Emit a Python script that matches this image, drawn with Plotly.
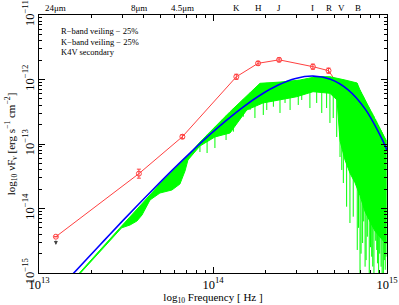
import numpy as np
import plotly.graph_objects as go

# ---------------- data (log10 units) ----------------
band_labels = ["24μm", "8μm", "4.5μm", "K", "H", "J", "I", "R", "V", "B"]
band_logfreq = [13.097, 13.574, 13.824, 14.134, 14.259, 14.380, 14.574, 14.664, 14.737, 14.833]

# observed SED (red), first point is an upper limit
red_logflux = [-14.437, -13.46, -12.887, -11.958, -11.749, -11.695, -11.801, -11.863, -12.15]
red_err_dex = [0.0, 0.07, 0.03, 0.04, 0.03, 0.03, 0.04, 0.04, 0.04]

# K4V secondary smooth continuum (blue)
blue_logfreq = [13.175, 13.275, 13.375, 13.475, 13.575, 13.675, 13.775, 13.875, 13.975, 14.075,
                14.175, 14.275, 14.375, 14.475, 14.575, 14.675, 14.775, 14.875, 14.975, 15.0]
blue_logflux = [-15.073, -14.782, -14.494, -14.208, -13.927, -13.651, -13.381, -13.121, -12.871, -12.637,
                -12.423, -12.236, -12.086, -11.984, -11.947, -11.995, -12.156, -12.459, -12.944, -13.098]

# K4V model spectrum (green): upper and lower envelope of the dense part
green_up_logfreq = [13.20, 13.232, 13.475, 13.569, 13.695, 13.851, 13.925, 14.098, 14.270, 14.385,
                    14.500, 14.598, 14.672, 14.759, 14.828, 14.845, 14.874, 14.931, 14.994]
green_up_logflux = [-15.10, -15.0, -14.271, -13.992, -13.62, -13.20, -12.97, -12.499, -12.059, -12.04,
                    -12.008, -11.953, -11.957, -12.008, -12.054, -12.163, -12.318, -12.597, -12.938]
green_lo_logfreq = [13.20, 13.232, 13.475, 13.523, 13.563, 13.592, 13.638, 13.695, 13.764, 13.810,
                    13.839, 13.856, 13.925, 14.011, 14.098, 14.194, 14.287, 14.385, 14.481, 14.575,
                    14.672, 14.713, 14.730, 14.759, 14.787, 14.816, 14.845, 14.874, 14.902, 14.931,
                    14.960, 14.994]
green_lo_logflux = [-15.12, -15.02, -14.30, -14.256, -14.194, -14.101, -13.868, -13.760, -13.713, -13.620,
                    -13.419, -13.248, -13.031, -12.891, -12.829, -12.473, -12.364, -12.318, -12.267, -12.189,
                    -12.214, -12.318, -12.95, -13.25, -13.45, -13.60, -13.80, -14.05, -14.20, -14.35,
                    -14.45, -14.55]

# absorption lines in the model spectrum: frequency and depth reached
line_logfreq = [13.925, 13.966, 14.011, 14.052, 14.075, 14.117, 14.174, 14.213, 14.241, 14.289,
                14.309, 14.347, 14.385, 14.414, 14.443, 14.490, 14.510, 14.557, 14.596, 14.625,
                14.653, 14.672, 14.691, 14.711, 14.730, 14.740, 14.749, 14.759, 14.768, 14.787,
                14.806, 14.829, 14.845, 14.860, 14.874, 14.887, 14.898, 14.912, 14.925, 14.941,
                14.952, 14.966, 14.979, 14.994, 14.836, 14.851, 14.866, 14.880, 14.905, 14.918,
                14.935, 14.946, 14.958, 14.972, 14.985, 14.990]
line_logflux = [-13.124, -13.140, -13.062, -12.829, -12.938, -12.809, -12.577, -12.473, -12.597, -12.550,
                -12.473, -12.422, -12.519, -12.364, -12.473, -12.395, -12.318, -12.442, -12.364, -12.519,
                -12.442, -12.674, -12.597, -12.891, -13.202, -13.403, -13.605, -13.202, -13.972, -14.225,
                -14.127, -14.643, -15.0, -14.535, -14.902, -14.437, -15.0, -14.747, -15.0, -14.643,
                -15.0, -14.902, -15.0, -14.747, -14.30, -14.70, -14.20, -14.80, -14.60, -14.90,
                -14.50, -14.85, -14.70, -15.0, -14.80, -14.95]

notes = ["R\u2212band veiling \u2212 25%", "K\u2212band veiling \u2212 25%", "K4V secondary"]

# ---------------- figure ----------------
FONT = "Liberation Serif"
fig = go.Figure()

# red SED
rx = [10 ** v for v in band_logfreq[:len(red_logflux)]]
ry = [10 ** v for v in red_logflux]
eplus = [10 ** f * (10 ** e - 1) for f, e in zip(red_logflux, red_err_dex)]
eminus = [10 ** f * (1 - 10 ** (-e)) for f, e in zip(red_logflux, red_err_dex)]
fig.add_trace(go.Scatter(
    x=rx, y=ry, mode="lines+markers",
    line=dict(color="#ff4040", width=1),
    marker=dict(symbol="circle-open", size=5, color="#ff4040", line=dict(width=1)),
    error_y=dict(type="data", symmetric=False, array=eplus, arrayminus=eminus,
                 color="#ff4040", thickness=1, width=2),
    hoverinfo="skip"))

# green spectrum: dense body
poly_x = [10 ** v for v in green_up_logfreq] + [10 ** v for v in green_lo_logfreq[::-1]]
poly_y = [10 ** v for v in green_up_logflux] + [10 ** v for v in green_lo_logflux[::-1]]
fig.add_trace(go.Scatter(x=poly_x, y=poly_y, mode="lines", fill="toself",
                         fillcolor="#00ff00", line=dict(color="#00ff00", width=1),
                         hoverinfo="skip"))

# green spectrum: absorption lines
tops = np.interp(line_logfreq, green_up_logfreq, green_up_logflux)
lx, ly = [], []
for f, d, t in zip(line_logfreq, line_logflux, tops):
    lx += [10 ** f, 10 ** f, None]
    ly += [10 ** t, 10 ** d, None]
fig.add_trace(go.Scatter(x=lx, y=ly, mode="lines", line=dict(color="#00ff00", width=1),
                         hoverinfo="skip"))

# blue continuum
fig.add_trace(go.Scatter(x=[10 ** v for v in blue_logfreq], y=[10 ** v for v in blue_logflux],
                         mode="lines", line=dict(color="#0000ff", width=1.6, shape="spline"),
                         hoverinfo="skip"))

axis_common = dict(
    type="log", showgrid=False, zeroline=False, showline=True, linecolor="black", linewidth=1,
    mirror="allticks", ticks="inside", ticklen=6, tickcolor="black", dtick=1,
    exponentformat="power", automargin=False,
    minor=dict(ticks="inside", ticklen=3, tickcolor="black", dtick="D1", showgrid=False),
    tickfont=dict(family=FONT, size=10, color="black"),
)

fig.update_layout(
    width=399, height=305, showlegend=False,
    paper_bgcolor="white", plot_bgcolor="white",
    margin=dict(l=39, r=12, t=15, b=32, autoexpand=False),
    font=dict(family=FONT, color="black"),
    hovermode=False,
    xaxis=dict(axis_common, range=[13, 15],
               title=dict(text="log<sub>10</sub> Frequency [ Hz ]", standoff=4,
                          font=dict(family=FONT, size=11))),
    yaxis=dict(axis_common, range=[-15, -11], tickangle=-90,
               title=dict(text="log<sub>10</sub> νF<sub>ν</sub> [erg s<sup>\u22121</sup> cm<sup>\u22122</sup>]",
                          standoff=2, font=dict(family=FONT, size=11))),
)

# wavelength / band labels on top
for lab, f in zip(band_labels, band_logfreq):
    fig.add_annotation(x=f, y=1, xref="x", yref="paper", text=lab, showarrow=False,
                       yanchor="bottom", xanchor="center", yshift=0,
                       font=dict(family=FONT, size=9, color="black"))

# notes
for i, t in enumerate(notes):
    fig.add_annotation(x=0.057, y=0.938 - i * 0.041, xref="paper", yref="paper", text=t,
                       showarrow=False, xanchor="left", yanchor="middle",
                       font=dict(family=FONT, size=8.5, color="black"))

# upper-limit arrow on the first point
fig.add_annotation(x=band_logfreq[0], y=red_logflux[0] - 0.13, xref="x", yref="y",
                   ax=0, ay=-6, axref="pixel", ayref="pixel", text="", showarrow=True,
                   arrowhead=2, arrowsize=0.8, arrowwidth=1, arrowcolor="#444444")

fig.write_html("out.html", config={"displayModeBar": False, "staticPlot": True},
               post_script="document.body.style.margin='0';document.body.style.padding='0';")
